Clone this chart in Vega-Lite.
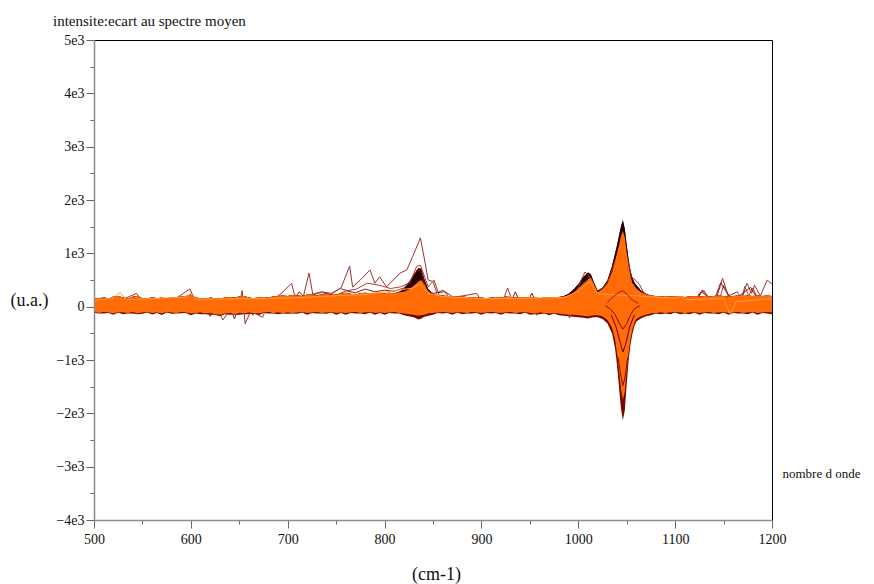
{
  "$schema": "https://vega.github.io/schema/vega-lite/v6.json",
  "width": 678,
  "height": 480,
  "autosize": {"type": "none"},
  "padding": {"left": 94, "top": 40, "right": 102, "bottom": 64},
  "background": "white",
  "config": {"view": {"stroke": null}, "font": "Liberation Serif", "axis": {"grid": false}},
  "title": {"text": "intensite:ecart au spectre moyen", "anchor": "start", "frame": "group", "dx": -41, "offset": 4, "fontSize": 15, "font": "Liberation Serif", "fontWeight": "normal", "color": "#111"},
  "resolve": {"axis": {"x": "independent", "y": "independent"}},
  "datasets": {
    "band": [
      {"x":500,"lo":-90,"hi":160,"dlo":-115,"dhi":160},
      {"x":505,"lo":-120,"hi":150,"dlo":-130,"dhi":150},
      {"x":510,"lo":-100,"hi":180,"dlo":-130,"dhi":180},
      {"x":515,"lo":-110,"hi":150,"dlo":-120,"dhi":150},
      {"x":520,"lo":-130,"hi":190,"dlo":-150,"dhi":190},
      {"x":525,"lo":-100,"hi":200,"dlo":-110,"dhi":200},
      {"x":530,"lo":-110,"hi":170,"dlo":-140,"dhi":170},
      {"x":535,"lo":-120,"hi":150,"dlo":-130,"dhi":150},
      {"x":540,"lo":-100,"hi":190,"dlo":-130,"dhi":190},
      {"x":545,"lo":-130,"hi":200,"dlo":-140,"dhi":200},
      {"x":550,"lo":-110,"hi":160,"dlo":-135,"dhi":160},
      {"x":555,"lo":-100,"hi":150,"dlo":-110,"dhi":150},
      {"x":560,"lo":-120,"hi":180,"dlo":-145,"dhi":180},
      {"x":565,"lo":-110,"hi":160,"dlo":-120,"dhi":160},
      {"x":570,"lo":-130,"hi":170,"dlo":-155,"dhi":170},
      {"x":575,"lo":-100,"hi":150,"dlo":-110,"dhi":150},
      {"x":580,"lo":-110,"hi":180,"dlo":-135,"dhi":180},
      {"x":585,"lo":-120,"hi":170,"dlo":-130,"dhi":170},
      {"x":590,"lo":-100,"hi":190,"dlo":-125,"dhi":190},
      {"x":595,"lo":-110,"hi":200,"dlo":-120,"dhi":200},
      {"x":600,"lo":-130,"hi":230,"dlo":-160,"dhi":230},
      {"x":605,"lo":-120,"hi":170,"dlo":-130,"dhi":170},
      {"x":610,"lo":-110,"hi":160,"dlo":-140,"dhi":160},
      {"x":615,"lo":-130,"hi":150,"dlo":-140,"dhi":150},
      {"x":620,"lo":-120,"hi":170,"dlo":-150,"dhi":170},
      {"x":625,"lo":-140,"hi":160,"dlo":-150,"dhi":160},
      {"x":630,"lo":-150,"hi":150,"dlo":-180,"dhi":150},
      {"x":635,"lo":-130,"hi":170,"dlo":-140,"dhi":170},
      {"x":640,"lo":-120,"hi":180,"dlo":-150,"dhi":180},
      {"x":645,"lo":-140,"hi":170,"dlo":-150,"dhi":170},
      {"x":650,"lo":-120,"hi":190,"dlo":-150,"dhi":190},
      {"x":655,"lo":-130,"hi":200,"dlo":-140,"dhi":200},
      {"x":660,"lo":-110,"hi":170,"dlo":-140,"dhi":170},
      {"x":665,"lo":-120,"hi":160,"dlo":-130,"dhi":160},
      {"x":670,"lo":-130,"hi":170,"dlo":-160,"dhi":170},
      {"x":675,"lo":-110,"hi":180,"dlo":-120,"dhi":180},
      {"x":680,"lo":-100,"hi":170,"dlo":-130,"dhi":170},
      {"x":685,"lo":-120,"hi":190,"dlo":-130,"dhi":190},
      {"x":690,"lo":-110,"hi":200,"dlo":-140,"dhi":200},
      {"x":695,"lo":-120,"hi":210,"dlo":-130,"dhi":210},
      {"x":700,"lo":-110,"hi":200,"dlo":-135,"dhi":200},
      {"x":705,"lo":-120,"hi":220,"dlo":-130,"dhi":220},
      {"x":710,"lo":-110,"hi":210,"dlo":-135,"dhi":210},
      {"x":715,"lo":-100,"hi":200,"dlo":-110,"dhi":200},
      {"x":720,"lo":-120,"hi":230,"dlo":-150,"dhi":230},
      {"x":725,"lo":-110,"hi":220,"dlo":-120,"dhi":220},
      {"x":730,"lo":-100,"hi":210,"dlo":-130,"dhi":210},
      {"x":735,"lo":-120,"hi":230,"dlo":-130,"dhi":230},
      {"x":740,"lo":-110,"hi":240,"dlo":-135,"dhi":240},
      {"x":745,"lo":-100,"hi":220,"dlo":-110,"dhi":220},
      {"x":750,"lo":-120,"hi":230,"dlo":-150,"dhi":230},
      {"x":755,"lo":-110,"hi":250,"dlo":-120,"dhi":250},
      {"x":760,"lo":-120,"hi":260,"dlo":-150,"dhi":260},
      {"x":765,"lo":-110,"hi":240,"dlo":-120,"dhi":240},
      {"x":770,"lo":-100,"hi":230,"dlo":-130,"dhi":230},
      {"x":775,"lo":-120,"hi":250,"dlo":-130,"dhi":250},
      {"x":780,"lo":-110,"hi":260,"dlo":-140,"dhi":260},
      {"x":785,"lo":-100,"hi":240,"dlo":-110,"dhi":240},
      {"x":790,"lo":-120,"hi":250,"dlo":-150,"dhi":250},
      {"x":795,"lo":-110,"hi":260,"dlo":-120,"dhi":260},
      {"x":800,"lo":-120,"hi":250,"dlo":-150,"dhi":250},
      {"x":805,"lo":-110,"hi":260,"dlo":-120,"dhi":260},
      {"x":810,"lo":-100,"hi":250,"dlo":-130,"dhi":250},
      {"x":815,"lo":-120,"hi":270,"dlo":-130,"dhi":280},
      {"x":820,"lo":-130,"hi":280,"dlo":-160,"dhi":330},
      {"x":825,"lo":-140,"hi":320,"dlo":-180,"dhi":450},
      {"x":830,"lo":-150,"hi":390,"dlo":-200,"dhi":600},
      {"x":835,"lo":-170,"hi":470,"dlo":-240,"dhi":720},
      {"x":838,"lo":-160,"hi":500,"dlo":-220,"dhi":710},
      {"x":841,"lo":-150,"hi":420,"dlo":-190,"dhi":520},
      {"x":845,"lo":-130,"hi":290,"dlo":-170,"dhi":330},
      {"x":850,"lo":-120,"hi":230,"dlo":-150,"dhi":240},
      {"x":855,"lo":-110,"hi":220,"dlo":-120,"dhi":220},
      {"x":860,"lo":-100,"hi":210,"dlo":-130,"dhi":210},
      {"x":865,"lo":-110,"hi":200,"dlo":-120,"dhi":200},
      {"x":870,"lo":-120,"hi":190,"dlo":-150,"dhi":190},
      {"x":875,"lo":-100,"hi":180,"dlo":-110,"dhi":180},
      {"x":880,"lo":-110,"hi":190,"dlo":-140,"dhi":190},
      {"x":885,"lo":-120,"hi":180,"dlo":-130,"dhi":180},
      {"x":890,"lo":-100,"hi":170,"dlo":-130,"dhi":170},
      {"x":895,"lo":-110,"hi":180,"dlo":-120,"dhi":180},
      {"x":900,"lo":-120,"hi":170,"dlo":-150,"dhi":170},
      {"x":905,"lo":-110,"hi":160,"dlo":-120,"dhi":160},
      {"x":910,"lo":-100,"hi":170,"dlo":-130,"dhi":170},
      {"x":915,"lo":-110,"hi":180,"dlo":-120,"dhi":180},
      {"x":920,"lo":-120,"hi":170,"dlo":-150,"dhi":170},
      {"x":925,"lo":-110,"hi":190,"dlo":-120,"dhi":190},
      {"x":930,"lo":-100,"hi":180,"dlo":-130,"dhi":180},
      {"x":935,"lo":-120,"hi":170,"dlo":-130,"dhi":170},
      {"x":940,"lo":-110,"hi":180,"dlo":-140,"dhi":180},
      {"x":945,"lo":-100,"hi":170,"dlo":-110,"dhi":170},
      {"x":950,"lo":-120,"hi":180,"dlo":-150,"dhi":180},
      {"x":955,"lo":-130,"hi":170,"dlo":-140,"dhi":170},
      {"x":960,"lo":-110,"hi":160,"dlo":-140,"dhi":160},
      {"x":965,"lo":-120,"hi":170,"dlo":-130,"dhi":170},
      {"x":970,"lo":-130,"hi":180,"dlo":-160,"dhi":180},
      {"x":975,"lo":-120,"hi":170,"dlo":-130,"dhi":170},
      {"x":980,"lo":-130,"hi":180,"dlo":-160,"dhi":180},
      {"x":985,"lo":-140,"hi":190,"dlo":-170,"dhi":200},
      {"x":990,"lo":-150,"hi":210,"dlo":-180,"dhi":240},
      {"x":995,"lo":-150,"hi":260,"dlo":-190,"dhi":320},
      {"x":1000,"lo":-160,"hi":340,"dlo":-200,"dhi":420},
      {"x":1005,"lo":-170,"hi":430,"dlo":-210,"dhi":550},
      {"x":1010,"lo":-180,"hi":510,"dlo":-220,"dhi":640},
      {"x":1013,"lo":-170,"hi":540,"dlo":-210,"dhi":610},
      {"x":1016,"lo":-160,"hi":430,"dlo":-200,"dhi":460},
      {"x":1020,"lo":-160,"hi":270,"dlo":-200,"dhi":300},
      {"x":1025,"lo":-180,"hi":330,"dlo":-230,"dhi":360},
      {"x":1030,"lo":-250,"hi":430,"dlo":-310,"dhi":490},
      {"x":1035,"lo":-400,"hi":650,"dlo":-510,"dhi":770},
      {"x":1038,"lo":-620,"hi":850,"dlo":-790,"dhi":1000},
      {"x":1040,"lo":-880,"hi":1000,"dlo":-1100,"dhi":1150},
      {"x":1042,"lo":-1200,"hi":1150,"dlo":-1500,"dhi":1330},
      {"x":1044,"lo":-1550,"hi":1320,"dlo":-1900,"dhi":1500},
      {"x":1046,"lo":-1750,"hi":1420,"dlo":-2130,"dhi":1620},
      {"x":1048,"lo":-1600,"hi":1300,"dlo":-1950,"dhi":1460},
      {"x":1050,"lo":-1200,"hi":1000,"dlo":-1450,"dhi":1150},
      {"x":1052,"lo":-850,"hi":750,"dlo":-1000,"dhi":880},
      {"x":1054,"lo":-600,"hi":560,"dlo":-700,"dhi":660},
      {"x":1056,"lo":-420,"hi":440,"dlo":-500,"dhi":530},
      {"x":1058,"lo":-300,"hi":390,"dlo":-360,"dhi":460},
      {"x":1060,"lo":-230,"hi":340,"dlo":-280,"dhi":400},
      {"x":1065,"lo":-180,"hi":270,"dlo":-215,"dhi":300},
      {"x":1070,"lo":-150,"hi":230,"dlo":-180,"dhi":240},
      {"x":1075,"lo":-130,"hi":210,"dlo":-160,"dhi":210},
      {"x":1080,"lo":-120,"hi":200,"dlo":-130,"dhi":200},
      {"x":1085,"lo":-110,"hi":190,"dlo":-140,"dhi":190},
      {"x":1090,"lo":-120,"hi":200,"dlo":-130,"dhi":200},
      {"x":1095,"lo":-110,"hi":190,"dlo":-140,"dhi":190},
      {"x":1100,"lo":-100,"hi":200,"dlo":-110,"dhi":200},
      {"x":1105,"lo":-110,"hi":190,"dlo":-140,"dhi":190},
      {"x":1110,"lo":-120,"hi":180,"dlo":-130,"dhi":180},
      {"x":1115,"lo":-110,"hi":190,"dlo":-140,"dhi":190},
      {"x":1120,"lo":-100,"hi":200,"dlo":-110,"dhi":200},
      {"x":1125,"lo":-120,"hi":190,"dlo":-150,"dhi":190},
      {"x":1130,"lo":-110,"hi":200,"dlo":-120,"dhi":200},
      {"x":1135,"lo":-100,"hi":190,"dlo":-130,"dhi":190},
      {"x":1140,"lo":-120,"hi":200,"dlo":-130,"dhi":200},
      {"x":1145,"lo":-110,"hi":210,"dlo":-140,"dhi":210},
      {"x":1150,"lo":-100,"hi":200,"dlo":-110,"dhi":200},
      {"x":1155,"lo":-120,"hi":190,"dlo":-150,"dhi":190},
      {"x":1160,"lo":-110,"hi":200,"dlo":-120,"dhi":200},
      {"x":1165,"lo":-100,"hi":210,"dlo":-130,"dhi":210},
      {"x":1170,"lo":-120,"hi":200,"dlo":-130,"dhi":200},
      {"x":1175,"lo":-110,"hi":210,"dlo":-140,"dhi":210},
      {"x":1180,"lo":-100,"hi":200,"dlo":-110,"dhi":200},
      {"x":1185,"lo":-120,"hi":210,"dlo":-150,"dhi":210},
      {"x":1190,"lo":-110,"hi":200,"dlo":-120,"dhi":200},
      {"x":1195,"lo":-100,"hi":210,"dlo":-130,"dhi":210},
      {"x":1200,"lo":-110,"hi":200,"dlo":-140,"dhi":200}
    ],
    "under": [
      {"s":"b1","x":500,"y":80},{"s":"b1","x":520,"y":60},{"s":"b1","x":544,"y":250},{"s":"b1","x":550,"y":90},{"s":"b1","x":580,"y":100},{"s":"b1","x":599,"y":330},{"s":"b1","x":605,"y":100},{"s":"b1","x":628,"y":-60},{"s":"b1","x":633,"y":-250},{"s":"b1","x":640,"y":-80},{"s":"b1","x":650,"y":60},{"s":"b1","x":653,"y":300},{"s":"b1","x":656,"y":-320},{"s":"b1","x":662,"y":-80},{"s":"b1","x":674,"y":-200},{"s":"b1","x":680,"y":60},{"s":"b1","x":695,"y":275},{"s":"b1","x":704,"y":440},{"s":"b1","x":707,"y":220},{"s":"b1","x":716,"y":180},{"s":"b1","x":722,"y":630},{"s":"b1","x":726,"y":220},{"s":"b1","x":736,"y":275},{"s":"b1","x":745,"y":250},{"s":"b1","x":755,"y":350},{"s":"b1","x":764,"y":760},{"s":"b1","x":767,"y":370},{"s":"b1","x":775,"y":500},{"s":"b1","x":785,"y":690},{"s":"b1","x":790,"y":440},{"s":"b1","x":795,"y":560},{"s":"b1","x":802,"y":370},{"s":"b1","x":809,"y":500},{"s":"b1","x":816,"y":630},{"s":"b1","x":823,"y":690},{"s":"b1","x":829,"y":940},{"s":"b1","x":837,"y":1290},{"s":"b1","x":842,"y":810},{"s":"b1","x":845,"y":500},{"s":"b1","x":850,"y":470},{"s":"b1","x":854,"y":255},{"s":"b1","x":860,"y":310},{"s":"b1","x":871,"y":180},{"s":"b1","x":880,"y":200},{"s":"b1","x":895,"y":250},{"s":"b1","x":900,"y":100},{"s":"b1","x":922,"y":100},{"s":"b1","x":927,"y":350},{"s":"b1","x":932,"y":100},{"s":"b1","x":950,"y":60},{"s":"b1","x":957,"y":-160},{"s":"b1","x":965,"y":60},{"s":"b1","x":985,"y":100},{"s":"b1","x":991,"y":-210},{"s":"b1","x":996,"y":150},{"s":"b1","x":1003,"y":500},{"s":"b1","x":1007,"y":650},{"s":"b1","x":1011,"y":580},{"s":"b1","x":1016,"y":350},{"s":"b1","x":1020,"y":250},{"s":"b1","x":1030,"y":450},{"s":"b1","x":1040,"y":950},{"s":"b1","x":1046,"y":1300},{"s":"b1","x":1050,"y":950},{"s":"b1","x":1055,"y":560},{"s":"b1","x":1060,"y":480},{"s":"b1","x":1063,"y":420},{"s":"b1","x":1068,"y":250},{"s":"b1","x":1075,"y":170},{"s":"b1","x":1100,"y":150},{"s":"b1","x":1123,"y":120},{"s":"b1","x":1128,"y":315},{"s":"b1","x":1135,"y":150},{"s":"b1","x":1143,"y":180},{"s":"b1","x":1149,"y":530},{"s":"b1","x":1155,"y":200},{"s":"b1","x":1164,"y":280},{"s":"b1","x":1169,"y":150},{"s":"b1","x":1174,"y":440},{"s":"b1","x":1179,"y":250},{"s":"b1","x":1182,"y":400},{"s":"b1","x":1188,"y":200},{"s":"b1","x":1195,"y":500},{"s":"b1","x":1200,"y":420},
      {"s":"b2","x":500,"y":50},{"s":"b2","x":700,"y":80},{"s":"b2","x":728,"y":250},{"s":"b2","x":736,"y":280},{"s":"b2","x":743,"y":210},{"s":"b2","x":754,"y":340},{"s":"b2","x":762,"y":300},{"s":"b2","x":771,"y":330},{"s":"b2","x":782,"y":440},{"s":"b2","x":795,"y":400},{"s":"b2","x":806,"y":340},{"s":"b2","x":816,"y":370},{"s":"b2","x":826,"y":440},{"s":"b2","x":833,"y":750},{"s":"b2","x":837,"y":780},{"s":"b2","x":845,"y":370},{"s":"b2","x":851,"y":500},{"s":"b2","x":857,"y":180},{"s":"b2","x":870,"y":120},{"s":"b2","x":1000,"y":100},{"s":"b2","x":1100,"y":80},{"s":"b2","x":1120,"y":90},{"s":"b2","x":1125,"y":250},{"s":"b2","x":1130,"y":300},{"s":"b2","x":1136,"y":120},{"s":"b2","x":1146,"y":150},{"s":"b2","x":1150,"y":400},{"s":"b2","x":1156,"y":150},{"s":"b2","x":1168,"y":120},{"s":"b2","x":1172,"y":380},{"s":"b2","x":1176,"y":200},{"s":"b2","x":1180,"y":350},{"s":"b2","x":1186,"y":150},{"s":"b2","x":1200,"y":100},
      {"s":"b3","x":500,"y":40},{"s":"b3","x":560,"y":60},{"s":"b3","x":615,"y":20},{"s":"b3","x":620,"y":-180},{"s":"b3","x":626,"y":40},{"s":"b3","x":640,"y":20},{"s":"b3","x":645,"y":-230},{"s":"b3","x":650,"y":50},{"s":"b3","x":660,"y":20},{"s":"b3","x":664,"y":-160},{"s":"b3","x":670,"y":40},{"s":"b3","x":705,"y":100},{"s":"b3","x":712,"y":280},{"s":"b3","x":718,"y":150},{"s":"b3","x":740,"y":250},{"s":"b3","x":750,"y":200},{"s":"b3","x":760,"y":300},{"s":"b3","x":770,"y":260},{"s":"b3","x":780,"y":330},{"s":"b3","x":790,"y":280},{"s":"b3","x":800,"y":310},{"s":"b3","x":810,"y":290},{"s":"b3","x":820,"y":350},{"s":"b3","x":828,"y":520},{"s":"b3","x":834,"y":700},{"s":"b3","x":838,"y":660},{"s":"b3","x":843,"y":320},{"s":"b3","x":850,"y":250},{"s":"b3","x":862,"y":280},{"s":"b3","x":868,"y":150},{"s":"b3","x":900,"y":60},{"s":"b3","x":930,"y":60},{"s":"b3","x":935,"y":280},{"s":"b3","x":940,"y":60},{"s":"b3","x":947,"y":60},{"s":"b3","x":952,"y":255},{"s":"b3","x":957,"y":60},{"s":"b3","x":985,"y":50},{"s":"b3","x":1000,"y":100},{"s":"b3","x":1100,"y":60},{"s":"b3","x":1120,"y":80},{"s":"b3","x":1127,"y":280},{"s":"b3","x":1133,"y":200},{"s":"b3","x":1140,"y":100},{"s":"b3","x":1147,"y":450},{"s":"b3","x":1152,"y":300},{"s":"b3","x":1160,"y":120},{"s":"b3","x":1178,"y":360},{"s":"b3","x":1185,"y":150},{"s":"b3","x":1200,"y":100}
    ],
    "over": [
      {"s":"o1","x":500,"y":120},{"s":"o1","x":520,"y":160},{"s":"o1","x":527,"y":270},{"s":"o1","x":533,"y":130},{"s":"o1","x":560,"y":150},{"s":"o1","x":595,"y":180},{"s":"o1","x":600,"y":250},{"s":"o1","x":606,"y":140},{"s":"o1","x":700,"y":160},{"s":"o1","x":780,"y":230},{"s":"o1","x":830,"y":350},{"s":"o1","x":836,"y":430},{"s":"o1","x":845,"y":250},{"s":"o1","x":860,"y":190},{"s":"o1","x":900,"y":150},{"s":"o1","x":950,"y":160},{"s":"o1","x":985,"y":170},{"s":"o1","x":1000,"y":290},{"s":"o1","x":1012,"y":470},{"s":"o1","x":1020,"y":240},{"s":"o1","x":1100,"y":160},{"s":"o1","x":1105,"y":200},{"s":"o1","x":1110,"y":130},{"s":"o1","x":1150,"y":150},{"s":"o1","x":1157,"y":-150},{"s":"o1","x":1163,"y":90},{"s":"o1","x":1200,"y":150},
      {"s":"s1","x":1028,"y":20},{"s":"s1","x":1034,"y":-60},{"s":"s1","x":1038,"y":-150},{"s":"s1","x":1042,"y":-300},{"s":"s1","x":1046,"y":-420},{"s":"s1","x":1050,"y":-320},{"s":"s1","x":1054,"y":-150},{"s":"s1","x":1058,"y":-40},{"s":"s1","x":1064,"y":20},
      {"s":"s2","x":1030,"y":80},{"s":"s2","x":1036,"y":180},{"s":"s2","x":1041,"y":260},{"s":"s2","x":1046,"y":300},{"s":"s2","x":1051,"y":220},{"s":"s2","x":1056,"y":120},{"s":"s2","x":1062,"y":60},
      {"s":"s3","x":1034,"y":-150},{"s":"s3","x":1039,"y":-380},{"s":"s3","x":1043,"y":-650},{"s":"s3","x":1046,"y":-850},{"s":"s3","x":1049,"y":-700},{"s":"s3","x":1053,"y":-380},{"s":"s3","x":1058,"y":-150},
      {"s":"s4","x":1041,"y":-950},{"s":"s4","x":1044,"y":-1300},{"s":"s4","x":1046,"y":-1480},{"s":"s4","x":1048,"y":-1350},{"s":"s4","x":1051,"y":-950}
    ]
  },
  "layer": [
    {
      "data": {"name": "band"},
      "mark": {"type": "area", "color": "#740800", "clip": true},
      "encoding": {
        "x": {"field": "x", "type": "quantitative", "scale": {"domain": [500, 1200], "nice": false, "zero": false},
          "axis": {"orient": "bottom", "values": [500,600,700,800,900,1000,1100,1200], "format": "d", "tickSize": 8, "tickColor": "#666", "domainColor": "#8c8c8c", "domainWidth": 1.5, "labelFont": "Liberation Serif", "labelFontSize": 14, "labelColor": "#111", "labelPadding": 4, "labelFlush": false, "title": "(cm-1)", "titleFont": "Liberation Serif", "titleFontSize": 18, "titleFontWeight": "normal", "titleColor": "#111", "titleX": 342, "titleY": 59, "titleAlign": "center", "titleBaseline": "alphabetic", "zindex": 1}},
        "y": {"field": "dlo", "type": "quantitative", "scale": {"domain": [-4000, 5000], "nice": false, "zero": false},
          "axis": {"orient": "left", "values": [-4000,-3000,-2000,-1000,0,1000,2000,3000,4000,5000], "labelExpr": "datum.value == 0 ? '0' : format(datum.value/1000, 'd') + 'e3'", "tickSize": 8, "tickColor": "#666", "domainColor": "#8c8c8c", "domainWidth": 1.5, "labelFont": "Liberation Serif", "labelFontSize": 14, "labelColor": "#111", "labelPadding": 2, "labelFlush": false, "title": "(u.a.)", "titleFont": "Liberation Serif", "titleFontSize": 18, "titleFontWeight": "normal", "titleColor": "#111", "titleAngle": 0, "titleX": -84, "titleY": 265, "titleAlign": "left", "titleBaseline": "alphabetic", "zindex": 1}},
        "y2": {"field": "dhi"}
      }
    },
    {
      "data": {"name": "band"},
      "mark": {"type": "area", "color": "#240000", "clip": true},
      "encoding": {
        "x": {"field": "x", "type": "quantitative", "scale": {"domain": [500, 1200], "nice": false, "zero": false},
          "axis": {"orient": "bottom", "values": [550,650,750,850,950,1050,1150], "labels": false, "domain": false, "tickSize": 4, "tickColor": "#666", "title": "nombre d onde", "titleFont": "Liberation Serif", "titleFontSize": 13, "titleFontWeight": "normal", "titleColor": "#111", "titleX": 688, "titleY": -43, "titleAlign": "left", "titleBaseline": "alphabetic"}},
        "y": {"field": "lo", "type": "quantitative", "scale": {"domain": [-4000, 5000], "nice": false, "zero": false},
          "axis": {"orient": "left", "values": [-3500,-2500,-1500,-500,500,1500,2500,3500,4500], "labels": false, "domain": false, "tickSize": 4, "tickColor": "#666", "title": null}},
        "y2": {"field": "dhi"}
      }
    },
    {
      "data": {"name": "under"},
      "mark": {"type": "line", "strokeWidth": 1, "clip": true},
      "encoding": {
        "x": {"field": "x", "type": "quantitative", "scale": {"domain": [500, 1200], "nice": false, "zero": false},
          "axis": {"orient": "top", "ticks": false, "labels": false, "domainColor": "#000", "domainWidth": 1, "title": null}},
        "y": {"field": "y", "type": "quantitative", "scale": {"domain": [-4000, 5000], "nice": false, "zero": false},
          "axis": {"orient": "right", "ticks": false, "labels": false, "domainColor": "#000", "domainWidth": 1, "title": null}},
        "color": {"field": "s", "type": "nominal", "scale": {"domain": ["b1","b2","b3","o1","s1","s2","s3","s4"], "range": ["#a3302c","#b0403a","#8a1a16","#ff9a3c","#8b0a00","#a81800","#6e0000","#900800"]}, "legend": null}
      }
    },
    {
      "data": {"name": "band"},
      "mark": {"type": "area", "color": "#ff6c08", "clip": true},
      "encoding": {
        "x": {"field": "x", "type": "quantitative", "scale": {"domain": [500, 1200], "nice": false, "zero": false}, "axis": null},
        "y": {"field": "lo", "type": "quantitative", "scale": {"domain": [-4000, 5000], "nice": false, "zero": false}, "axis": null},
        "y2": {"field": "hi"}
      }
    },
    {
      "data": {"name": "over"},
      "mark": {"type": "line", "strokeWidth": 1, "clip": true},
      "encoding": {
        "x": {"field": "x", "type": "quantitative", "scale": {"domain": [500, 1200], "nice": false, "zero": false}, "axis": null},
        "y": {"field": "y", "type": "quantitative", "scale": {"domain": [-4000, 5000], "nice": false, "zero": false}, "axis": null},
        "color": {"field": "s", "type": "nominal", "scale": {"domain": ["b1","b2","b3","o1","s1","s2","s3","s4"], "range": ["#a3302c","#b0403a","#8a1a16","#ff9a3c","#8b0a00","#a81800","#6e0000","#900800"]}, "legend": null}
      }
    }
  ]
}
